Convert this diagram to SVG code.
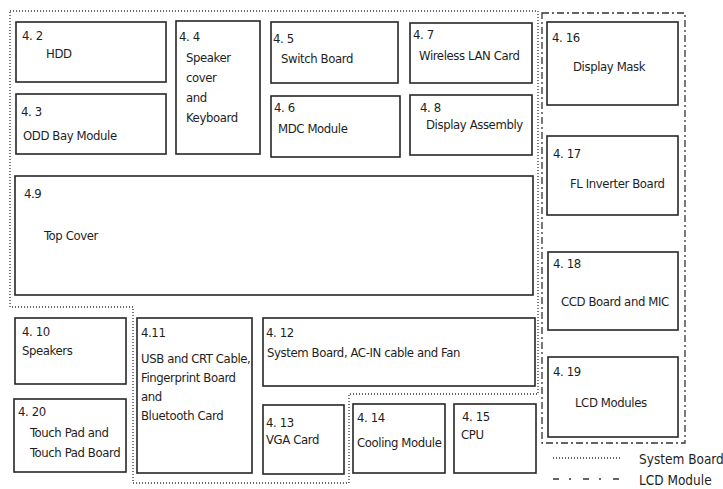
<svg xmlns="http://www.w3.org/2000/svg" width="723" height="489" viewBox="0 0 723 489">
<style>
  .box { fill: #ffffff; stroke: #262626; stroke-width: 1.6; }
  text { font-family: "DejaVu Sans Condensed", "DejaVu Sans", sans-serif; font-stretch: condensed; font-size: 13px; letter-spacing: -0.4px; fill: #1e1e1e; }
  .leg { font-size: 13.5px; letter-spacing: 0; }
  .sys { fill: none; stroke: #333333; stroke-width: 1.3; stroke-dasharray: 1 2; }
  .lcd { fill: none; stroke: #333333; stroke-width: 1.3; stroke-dasharray: 7 3 2 3; }
  .lcdleg { fill: none; stroke: #333333; stroke-width: 1.3; stroke-dasharray: 6 10 2 12; }
</style>
<rect x="0" y="0" width="723" height="489" fill="#ffffff"/>
<g id="boundaries">
  <path class="sys" d="M10,11 H538 V394 H349 V483 H133 V307 H10 Z"/>
  <rect class="lcd" x="542" y="13" width="143" height="430"/>
</g>
<g id="connectors"></g>
<g id="n4_2"><rect class="box" x="16" y="22" width="150" height="60"/><text x="22" y="40">4. 2</text><text x="46" y="58">HDD</text></g>
<g id="n4_3"><rect class="box" x="16" y="94" width="150" height="60"/><text x="21" y="116">4. 3</text><text x="23" y="140">ODD Bay Module</text></g>
<g id="n4_4"><rect class="box" x="176" y="21" width="84" height="133"/><text x="179" y="41">4. 4</text><text x="186" y="62">Speaker</text><text x="186" y="82">cover</text><text x="186" y="102">and</text><text x="186" y="122">Keyboard</text></g>
<g id="n4_5"><rect class="box" x="271" y="22" width="127" height="61"/><text x="273" y="43">4. 5</text><text x="281" y="63">Switch Board</text></g>
<g id="n4_6"><rect class="box" x="271" y="96" width="129" height="61"/><text x="274" y="112">4. 6</text><text x="278" y="133">MDC Module</text></g>
<g id="n4_7"><rect class="box" x="410" y="23" width="122" height="60"/><text x="413" y="39">4. 7</text><text x="419" y="60">Wireless LAN Card</text></g>
<g id="n4_8"><rect class="box" x="410" y="95" width="122" height="60"/><text x="420" y="112">4. 8</text><text x="426" y="129">Display Assembly</text></g>
<g id="n4_9"><rect class="box" x="15" y="176" width="518" height="119"/><text x="24" y="198">4.9</text><text x="44" y="240">Top Cover</text></g>
<g id="n4_10"><rect class="box" x="15" y="318" width="111" height="66"/><text x="22" y="336">4. 10</text><text x="22" y="355">Speakers</text></g>
<g id="n4_11"><rect class="box" x="137" y="318" width="115" height="155"/><text x="141" y="337">4.11</text><text x="141" y="363">USB and CRT Cable,</text><text x="141" y="382">Fingerprint Board</text><text x="141" y="401">and</text><text x="141" y="420">Bluetooth Card</text></g>
<g id="n4_12"><rect class="box" x="263" y="318" width="272" height="68"/><text x="266" y="337">4. 12</text><text x="267" y="357">System Board, AC-IN cable and Fan</text></g>
<g id="n4_13"><rect class="box" x="263" y="405" width="81" height="69"/><text x="266" y="427">4. 13</text><text x="266" y="444">VGA Card</text></g>
<g id="n4_14"><rect class="box" x="353" y="404" width="92" height="69"/><text x="357" y="422">4. 14</text><text x="357" y="447">Cooling Module</text></g>
<g id="n4_15"><rect class="box" x="454" y="404" width="82" height="69"/><text x="462" y="421">4. 15</text><text x="461" y="439">CPU</text></g>
<g id="n4_16"><rect class="box" x="547" y="22" width="131" height="83"/><text x="552" y="42">4. 16</text><text x="573" y="71">Display Mask</text></g>
<g id="n4_17"><rect class="box" x="547" y="136" width="131" height="79"/><text x="553" y="158">4. 17</text><text x="570" y="188">FL Inverter Board</text></g>
<g id="n4_18"><rect class="box" x="548" y="252" width="130" height="78"/><text x="553" y="268">4. 18</text><text x="561" y="306">CCD Board and MIC</text></g>
<g id="n4_19"><rect class="box" x="548" y="357" width="130" height="80"/><text x="553" y="376">4. 19</text><text x="575" y="407">LCD Modules</text></g>
<g id="n4_20"><rect class="box" x="14" y="399" width="112" height="73"/><text x="18" y="416">4. 20</text><text x="30" y="437">Touch Pad and</text><text x="30" y="457">Touch Pad Board</text></g>
<g id="legend">
  <line class="sys" x1="553" y1="458" x2="621" y2="458"/>
  <text class="leg" x="639" y="464">System Board</text>
  <line class="lcdleg" x1="553" y1="479" x2="622" y2="479"/>
  <text class="leg" x="639" y="485">LCD Module</text>
</g>
</svg>
